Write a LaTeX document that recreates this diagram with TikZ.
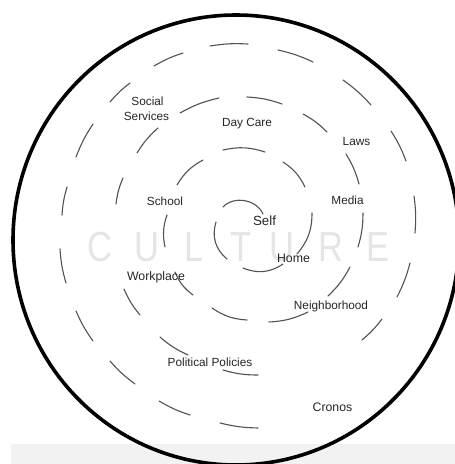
\documentclass[tikz,border=0pt]{standalone}
\usepackage{fontspec}
\setmainfont{Liberation Sans}
\tikzset{
  dashline/.style={draw=black!68, line width=1.1pt, line cap=round},
  lbl/.style={anchor=base, inner sep=0pt, text=black!85, font=\fontsize{11.8}{14}\selectfont},
  lblb/.style={lbl, font=\fontsize{12.3}{14}\selectfont},
  cult/.style={anchor=base, inner sep=0pt, text=black!10, font=\fontsize{42}{46}\selectfont}
}
\begin{document}
\begin{tikzpicture}[x=1pt,y=-1pt]
\useasboundingbox (0,0) rectangle (455,464);
\clip (0,0) rectangle (455,464);
\fill[white] (0,0) rectangle (455,464);
\fill[black!5] (11,444) rectangle (455,464);
% CULTURE
\foreach \l/\x in {C/99.5,U/147,L/194,T/241.5,U/282,R/331,E/377.5}
  \node[cult] at (\x,261) {\scalebox{0.82}[1]{\l}};
% outer solid circle
\draw[line width=3.6pt] (236,240) ellipse [x radius=223, y radius=225];
% outer dashed ring
\foreach \xa/\ya/\xb/\yb in {154/66/183/53,210/46/248/44,278/50/313/62,
  343/80/371/105,391/131/406/161,414/196/415/233,
  410/263/397/297,382/319/362/340,258/428/220/423,
  190/415/159/401,135/384/110/361,93/341/76/311,
  66/283/60/249,62/215/67/187,76/157/93/124,110/102/130/83}
  \draw[dashline] (\xa,\ya) to[bend left=6] (\xb,\yb);
% spiral, middle turn
\foreach \xa/\ya/\xb/\yb in {258/375/223/370,188/355/160/337,140/315/124/289,
  116/204/123/178,137/153/158/128,180/113/219/98,
  247/97/282/104,303/114/327/132,346/154/359/184,
  363/213/358/247}
  \draw[dashline] (\xa,\ya) to[bend left=8] (\xb,\yb);
\draw[dashline] (350,267) to[bend left=9] (328,296);
\draw[dashline] (308,312) to[bend left=11] (269,322);
% inner turn
\foreach \xa/\ya/\xb/\yb in {247/320/212/308,193/295/175/272,165/247/167/215,
  177/185/203/160,223/150/265/152,283/162/305/187}
  \draw[dashline] (\xa,\ya) to[bend left=15] (\xb,\yb);
\draw[dashline] (312,213) to[bend left=20] (297,254);
\draw[dashline] (283,264) to[bend left=28] (243,268);
\draw[dashline] (227,259) to[bend left=34] (216,222);
\draw[dashline] (223,207) to[bend left=57] (263,214);
% labels
\node[lbl] (social) at (147.5,105) {Social};
\node[lbl] (services) at (146.5,120) {Services};
\node[lbl] (daycare) at (247,126.5) {Day Care};
\node[lbl] (laws) at (356.5,145) {Laws};
\node[lbl] (media) at (347.5,204.3) {Media};
\node[lbl] (school) at (165,205) {School};
\node[lbl, font=\fontsize{13.3}{15}\selectfont] (self) at (264.5,225) {Self};
\node[lblb] (home) at (293.5,262.5) {Home};
\node[lblb] (workplace) at (156,280) {Workplace};
\node[lbl] (neigh) at (331,309) {Neighborhood};
\node[lbl] (policies) at (210,366) {Political Policies};
\node[lblb] (cronos) at (332.5,411) {Cronos};
\end{tikzpicture}
\end{document}
